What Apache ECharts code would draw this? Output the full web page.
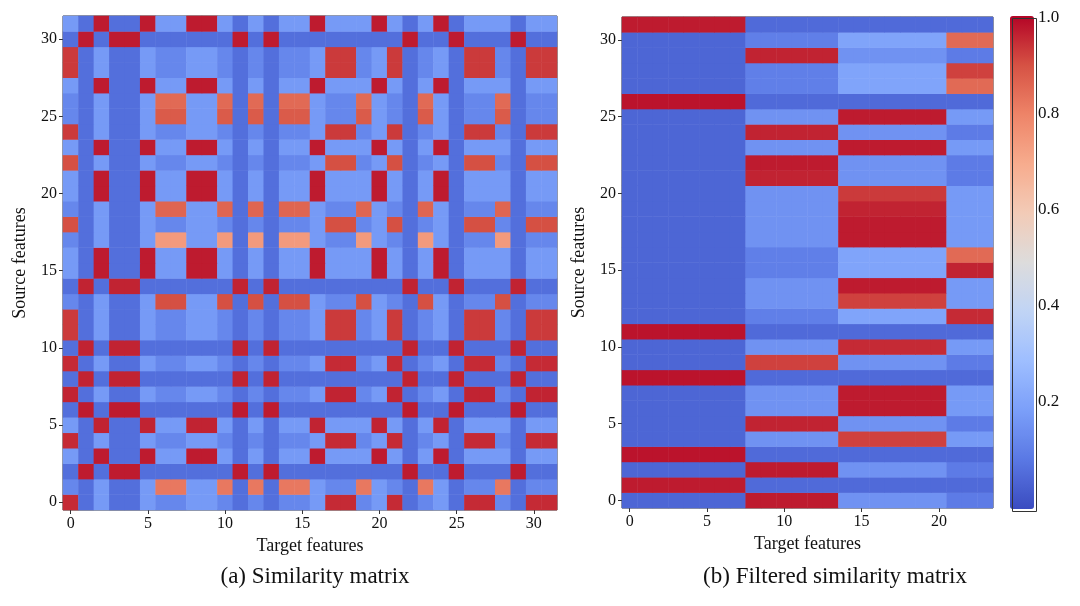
<!DOCTYPE html>
<html>
<head>
<meta charset="utf-8">
<script src="https://cdn.jsdelivr.net/npm/echarts@6/dist/echarts.min.js"></script>
<style>html,body{margin:0;background:#fff}#main{width:1080px;height:606px}</style>
</head>
<body>
<div id="main"></div>
<script>
// (a) similarity matrix: each feature belongs to a group, red where groups match
var colGroupsA = ['C','B','A','B','B','A','D','D','A','A','D','B','D','B','D','D',
                  'A','C','C','D','A','C','B','D','A','B','C','C','D','B','C','C'];
var rowGroupsA = ['C','D','B','A','C','A','B','C','B','C','B','C','C','D','B','A',
                  'A','D','C','D','A','A','C','A','C','D','D','A','C','C','B','A'];
var rowMatchA = [0.95,0.82,0.97,0.97,0.95,0.96,0.97,0.96,0.96,0.95,0.96,0.93,0.93,0.9,0.96,0.97,
                 0.97,0.74,0.9,0.86,0.97,0.97,0.9,0.97,0.93,0.88,0.85,0.97,0.93,0.93,0.97,0.97];
// off-group levels: offA[rowGroup][colGroup]
var offA = {
  A: {B: 0.06, C: 0.17, D: 0.17},
  B: {A: 0.06, C: 0.06, D: 0.06},
  C: {A: 0.17, B: 0.06, D: 0.12},
  D: {A: 0.17, B: 0.06, C: 0.12}
};

// (b) filtered similarity matrix: 24 target features in 4 blocks
var colGroupsB = [0,0,0,0,0,0,0,0,1,1,1,1,1,1,2,2,2,2,2,2,2,3,3,3];
var rowGroupsB = [1,0,1,0,2,1,2,2,0,1,2,0,3,2,2,3,3,2,2,2,2,1,1,2,1,2,0,3,3,1,3,0];
var rowMatchB = [0.97,0.97,0.97,0.98,0.92,0.96,0.97,0.97,0.98,0.92,0.95,0.98,0.95,0.92,0.97,0.96,
                 0.85,0.97,0.97,0.96,0.93,0.96,0.97,0.97,0.96,0.97,0.98,0.85,0.92,0.96,0.85,0.97];
var offB = [
  [1, 0.05, 0.05, 0.05],
  [0.04, 1, 0.15, 0.09],
  [0.04, 0.15, 1, 0.17],
  [0.04, 0.1, 0.2, 1]
];

var barTicks = [0.2, 0.4, 0.6, 0.8, 1.0];
var coolwarm = ['#3b4cc0','#5a78e4','#7b9ff9','#9ebeff','#c0d4f5','#dddcdc',
                '#f2cbb7','#f7ac8e','#ee8468','#d65244','#b40426'];

var dataA = [], dataB = [];
rowGroupsA.forEach(function (rg, y) {
  colGroupsA.forEach(function (cg, x) {
    dataA.push([x, y, rg === cg ? rowMatchA[y] : offA[rg][cg]]);
  });
});
rowGroupsB.forEach(function (rg, y) {
  colGroupsB.forEach(function (cg, x) {
    dataB.push([x, y, rg === cg ? rowMatchB[y] : offB[rg][cg]]);
  });
});

function idx(n) { var a = []; for (var i = 0; i < n; i++) a.push(String(i)); return a; }
var font = 'Liberation Serif';
var lab = {color: '#111', fontSize: 16, fontFamily: font};
function every5(i) { return i % 5 === 0; }

function catAxis(n, gi, isX, name) {
  var ax = {
    type: 'category', gridIndex: gi, data: idx(n),
    axisLine: {show: false},
    axisTick: {show: true, alignWithLabel: true, interval: every5, length: 4, lineStyle: {color: '#333'}},
    axisLabel: Object.assign({interval: every5, margin: 6}, lab),
    splitArea: {show: false}
  };
  if (name) {
    ax.name = name; ax.nameLocation = 'middle';
    ax.nameTextStyle = {fontFamily: font, fontSize: 18, color: '#111'};
    ax.nameGap = isX ? 20 : 34;
  }
  return ax;
}

var chart = echarts.init(document.getElementById('main'));
chart.setOption({
  backgroundColor: '#fff',
  animation: false,
  title: [
    {text: '(a) Similarity matrix', left: 310, top: 560, textAlign: 'center',
     textStyle: {fontFamily: font, fontSize: 23, fontWeight: 'normal', color: '#111'}},
    {text: '(b) Filtered similarity matrix', left: 830, top: 560, textAlign: 'center',
     textStyle: {fontFamily: font, fontSize: 23, fontWeight: 'normal', color: '#111'}}
  ],
  grid: [
    {left: 63, top: 16, width: 494, height: 494, show: true, borderColor: '#333', borderWidth: 1, backgroundColor: 'transparent'},
    {left: 622, top: 17, width: 371, height: 491, show: true, borderColor: '#333', borderWidth: 1, backgroundColor: 'transparent'},
    {left: 1010, top: 18, width: 24, height: 480, show: false}
  ],
  xAxis: [
    catAxis(32, 0, true, 'Target features'),
    catAxis(24, 1, true, 'Target features'),
    {type: 'value', gridIndex: 2, show: false, min: 0, max: 1}
  ],
  yAxis: [
    catAxis(32, 0, false, 'Source features'),
    catAxis(32, 1, false, 'Source features'),
    {type: 'value', gridIndex: 2, position: 'right', min: 0, max: 1, interval: 0.2,
     axisLine: {show: false}, splitLine: {show: false},
     axisTick: {show: true, length: 4, lineStyle: {color: '#333'}},
     axisLabel: Object.assign({margin: 4, formatter: function (v) {
       return barTicks.indexOf(Math.round(v * 10) / 10) >= 0 ? v.toFixed(1) : '';
     }}, lab, {fontSize: 17})}
  ],
  visualMap: {
    type: 'continuous', min: -0.02, max: 1.0, seriesIndex: [0, 1],
    left: 1010, top: 16, itemWidth: 24, itemHeight: 493, padding: 0,
    calculable: false, text: ['', ''], showLabel: false,
    inRange: {color: coolwarm}
  },
  series: [
    {type: 'heatmap', xAxisIndex: 0, yAxisIndex: 0, data: dataA, itemStyle: {borderWidth: 0}},
    {type: 'heatmap', xAxisIndex: 1, yAxisIndex: 1, data: dataB, itemStyle: {borderWidth: 0}},
    {type: 'scatter', xAxisIndex: 2, yAxisIndex: 2, data: [], silent: true}
  ],
  graphic: [{type: 'rect', left: 1010, top: 16, shape: {width: 24, height: 493},
             style: {fill: 'none', stroke: '#333', lineWidth: 1}, z: 100}]
});
</script>
</body>
</html>
